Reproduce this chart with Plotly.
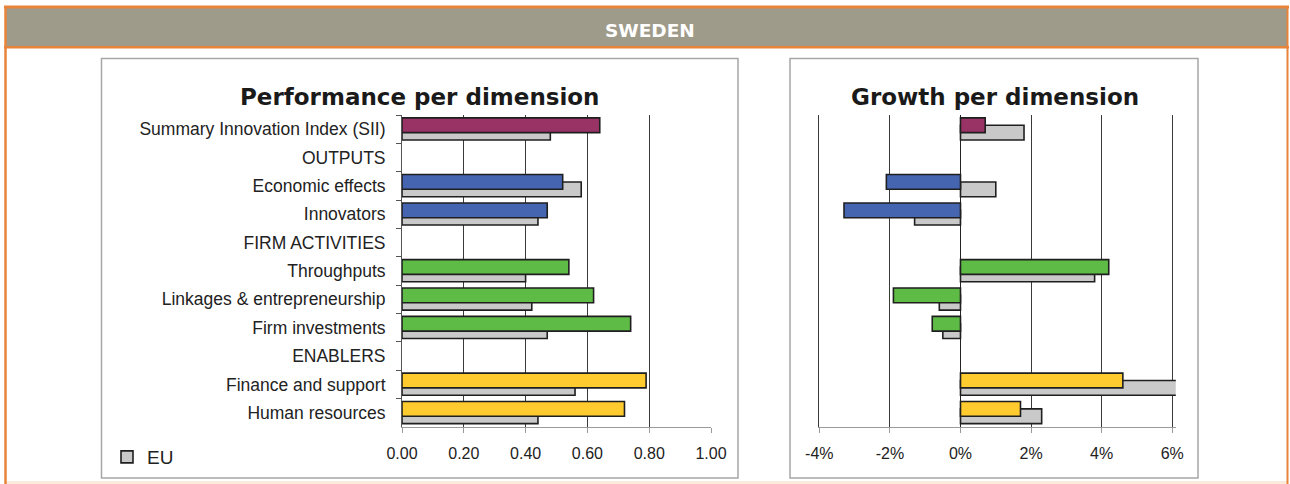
import plotly.graph_objects as go

# reference frame is 1290 x 484; the figure itself is drawn a little wider
REF_W, H = 1290, 484
FIG_W = 1322

# categories, top to bottom
categories = ["Summary Innovation Index (SII)", "OUTPUTS", "Economic effects",
              "Innovators", "FIRM ACTIVITIES", "Throughputs",
              "Linkages & entrepreneurship", "Firm investments", "ENABLERS",
              "Finance and support", "Human resources"]
groups = ["sii", None, "outputs", "outputs", None, "firm", "firm", "firm",
          None, "enablers", "enablers"]

# performance per dimension (Sweden vs EU)
perf_se = [0.64, None, 0.52, 0.47, None, 0.54, 0.62, 0.74, None, 0.79, 0.72]
perf_eu = [0.48, None, 0.58, 0.44, None, 0.40, 0.42, 0.47, None, 0.56, 0.44]

# growth per dimension, in %
growth_se = [0.7, None, -2.1, -3.3, None, 4.2, -1.9, -0.8, None, 4.6, 1.7]
growth_eu = [1.8, None, 1.0, -1.3, None, 3.8, -0.6, -0.5, None, 7.0, 2.3]

perf_ticks = [0, 0.2, 0.4, 0.6, 0.8, 1.0]
perf_ticktext = ["0.00", "0.20", "0.40", "0.60", "0.80", "1.00"]
growth_ticks = [-4, -2, 0, 2, 4, 6]
growth_ticktext = ["-4%", "-2%", "0%", "2%", "4%", "6%"]

group_colors = {"sii": "#993366", "outputs": "#4565B0",
                "firm": "#5DBB46", "enablers": "#FFCB2F"}
bar_colors = [group_colors.get(g, "#ffffff") for g in groups]
EU_GREY = "#C9C9C9"
OUTLINE = dict(color="#1f1f1f", width=1.6)


def px(x):
    return x / REF_W


def py(y):
    return 1 - y / H


fig = go.Figure()

# left chart: EU behind, country in front
fig.add_trace(go.Bar(y=categories, x=perf_eu, orientation="h", name="EU",
                     marker=dict(color=EU_GREY, line=OUTLINE),
                     offset=-0.14, width=0.52, xaxis="x", yaxis="y",
                     showlegend=True))
fig.add_trace(go.Bar(y=categories, x=perf_se, orientation="h", name="Sweden",
                     marker=dict(color=bar_colors, line=OUTLINE),
                     offset=-0.40, width=0.52, xaxis="x", yaxis="y",
                     showlegend=False))

# right chart
fig.add_trace(go.Bar(y=categories, x=growth_eu, orientation="h", name="EU",
                     marker=dict(color=EU_GREY, line=OUTLINE),
                     offset=-0.14, width=0.52, xaxis="x2", yaxis="y2",
                     showlegend=False))
fig.add_trace(go.Bar(y=categories, x=growth_se, orientation="h", name="Sweden",
                     marker=dict(color=bar_colors, line=OUTLINE),
                     offset=-0.40, width=0.52, xaxis="x2", yaxis="y2",
                     showlegend=False))

y_dom = [py(427), py(115)]
tick_font = dict(family="Liberation Sans, Arial", size=16, color="#222222")
cat_font = dict(family="Liberation Sans, Arial", size=17.5, color="#222222")

fig.update_layout(
    width=FIG_W, height=H,
    margin=dict(l=0, r=0, t=0, b=0),
    paper_bgcolor="white", plot_bgcolor="white",
    barmode="overlay",
    font=dict(family="Liberation Sans, Arial", color="#222222"),
    xaxis=dict(domain=[px(402), px(711)], range=[0, 1.0],
               tickvals=perf_ticks, ticktext=perf_ticktext,
               showgrid=True, gridcolor="#3a3a3a", gridwidth=1,
               zeroline=False, showline=True, linecolor="#9a9a9a", linewidth=1,
               ticks="outside", ticklen=5, tickcolor="#9a9a9a",
               tickfont=tick_font, ticklabelstandoff=7, anchor="y"),
    yaxis=dict(domain=y_dom, type="category", categoryorder="array",
               categoryarray=categories, autorange="reversed",
               tickson="boundaries", ticks="outside", ticklen=5,
               tickcolor="#555555", showline=True, linecolor="#555555",
               linewidth=1, showgrid=False, tickfont=cat_font,
               ticklabelstandoff=12, anchor="x"),
    xaxis2=dict(domain=[px(819.3), px(1175.8)], range=[-4, 6.1],
                tickvals=growth_ticks, ticktext=growth_ticktext,
                showgrid=True, gridcolor="#3a3a3a", gridwidth=1,
                zeroline=True, zerolinecolor="#222222", zerolinewidth=1,
                showline=True, linecolor="#9a9a9a", linewidth=1,
                ticks="outside", ticklen=5, tickcolor="#9a9a9a",
                tickfont=tick_font, ticklabelstandoff=7, anchor="y2"),
    yaxis2=dict(domain=y_dom, type="category", categoryorder="array",
                categoryarray=categories, autorange="reversed",
                showticklabels=False, showline=True, linecolor="#3a3a3a",
                linewidth=1, showgrid=False, ticks="", anchor="x2"),
    legend=dict(x=px(107), y=py(457), xanchor="left", yanchor="middle",
                bgcolor="rgba(0,0,0,0)",
                font=dict(family="Liberation Sans, Arial", size=19,
                          color="#222222")),
)

ORANGE = "#E8843A"
shapes = [
    # header band
    dict(type="rect", xref="paper", yref="paper", x0=px(6), x1=px(1287),
         y0=py(46), y1=py(8), fillcolor="#9F9B8A", line=dict(width=0),
         layer="below"),
    # orange frame
    dict(type="line", xref="paper", yref="paper", x0=px(4), x1=px(1289),
         y0=py(7), y1=py(7), line=dict(color=ORANGE, width=3)),
    dict(type="line", xref="paper", yref="paper", x0=px(4), x1=px(1289),
         y0=py(47.3), y1=py(47.3), line=dict(color=ORANGE, width=2.5)),
    dict(type="line", xref="paper", yref="paper", x0=px(5.5), x1=px(5.5),
         y0=py(6), y1=py(484), line=dict(color=ORANGE, width=2.5)),
    dict(type="line", xref="paper", yref="paper", x0=px(1287.5), x1=px(1287.5),
         y0=py(6), y1=py(484), line=dict(color=ORANGE, width=2)),
    dict(type="rect", xref="paper", yref="paper", x0=px(6), x1=px(1287),
         y0=py(484), y1=py(481), fillcolor="#FBEBDD", line=dict(width=0),
         layer="below"),
    # panel boxes
    dict(type="rect", xref="paper", yref="paper", x0=px(101.5), x1=px(738),
         y0=py(478), y1=py(58.5), line=dict(color="#A6A6A6", width=1.5),
         layer="below"),
    dict(type="rect", xref="paper", yref="paper", x0=px(790), x1=px(1198),
         y0=py(478), y1=py(58.5), line=dict(color="#A6A6A6", width=1.5),
         layer="below"),
]
fig.update_layout(shapes=shapes)

title_font = dict(family="DejaVu Sans", size=23, color="#1a1a1a")
fig.add_annotation(text="<b>SWEDEN</b>", xref="paper", yref="paper",
                   x=px(650), y=py(31), xanchor="center", yanchor="middle",
                   showarrow=False,
                   font=dict(family="DejaVu Sans", size=18.5, color="white"))
fig.add_annotation(text="<b>Performance per dimension</b>", xref="paper",
                   yref="paper", x=px(420), y=py(97), xanchor="center",
                   yanchor="middle", showarrow=False, font=title_font)
fig.add_annotation(text="<b>Growth per dimension</b>", xref="paper",
                   yref="paper", x=px(995), y=py(97), xanchor="center",
                   yanchor="middle", showarrow=False, font=title_font)

# page margins off; the captured frame starts 16px left of the page origin,
# so shift the figure left by that much
page_fix = ("document.documentElement.style.margin='0';"
            "document.body.style.margin='0';"
            "document.body.style.marginLeft='-16px';"
            "document.documentElement.style.overflow='hidden';"
            "document.body.style.overflow='hidden';")
fig.write_html("out.html", post_script=page_fix,
               config={"displayModeBar": False})
